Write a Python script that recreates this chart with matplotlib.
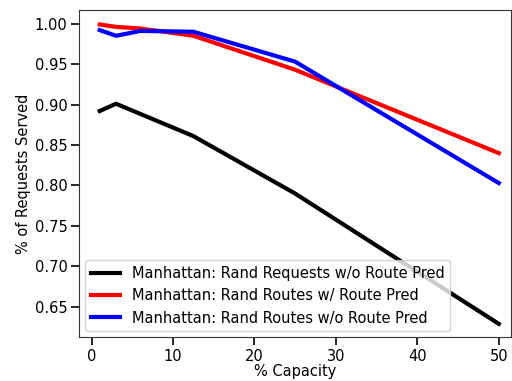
import matplotlib
matplotlib.use("Agg")
import matplotlib.pyplot as plt

# capacity (%) and fraction of requests served
capacity = [1, 3, 6, 12.5, 25, 50]
rand_requests_no_pred = [0.892, 0.901, None, 0.861, 0.790, 0.629]
rand_routes_pred = [0.999, 0.996, 0.994, 0.985, 0.943, 0.840]
rand_routes_no_pred = [0.992, 0.985, 0.991, 0.990, 0.953, 0.803]

plt.rcParams.update({'font.size': 10.5})

fig, ax = plt.subplots(figsize=(5.12, 3.81), dpi=100)

x_black = [c for c, v in zip(capacity, rand_requests_no_pred) if v is not None]
y_black = [v for v in rand_requests_no_pred if v is not None]
ax.plot(x_black, y_black, color="black", lw=3, label="Manhattan: Rand Requests w/o Route Pred")
ax.plot(capacity, rand_routes_pred, color="red", lw=3, label="Manhattan: Rand Routes w/ Route Pred")
ax.plot(capacity, rand_routes_no_pred, color="blue", lw=3, label="Manhattan: Rand Routes w/o Route Pred")

ax.set_xlabel("% Capacity", labelpad=0)
ax.set_ylabel("% of Requests Served", labelpad=3)
ax.set_xlim(-1.5, 51.5)
ax.set_ylim(0.6125, 1.0165)
ax.set_xticks([0, 10, 20, 30, 40, 50])
ax.set_yticks([0.65, 0.70, 0.75, 0.80, 0.85, 0.90, 0.95, 1.00])
ax.tick_params(length=6, width=1.2, labelsize=10.5, pad=2.5)
for s in ax.spines.values():
    s.set_color("#333333")
ax.legend(loc="lower left", fontsize=10.5, borderaxespad=0.4)

plt.subplots_adjust(left=0.155, right=0.998, top=0.973, bottom=0.115)
plt.savefig("out.png")
